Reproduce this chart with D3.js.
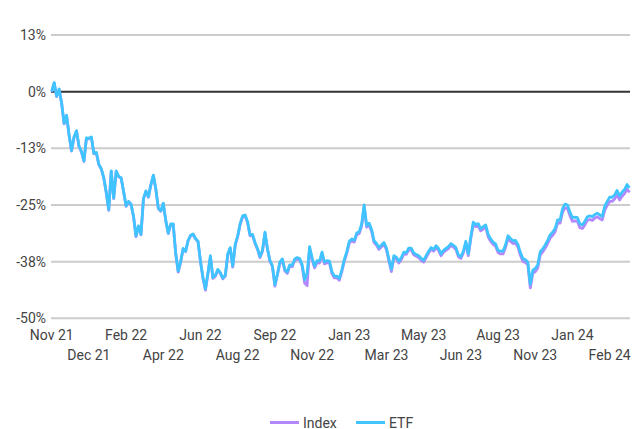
<!DOCTYPE html>
<html>
<head>
<meta charset="utf-8">
<script src="https://cdn.jsdelivr.net/npm/d3@7"></script>
<style>
  body { margin: 0; background: #fff; }
  text { font-family: Roboto, "Noto Sans", sans-serif; }
</style>
</head>
<body>
<div id="chart"></div>
<script>
// percentage change since Nov 21, one value per point
const etfValues = [
  0, 2.0, -1.0, 0.6, -2.5, -7.0, -5.2, -9.5, -13.0, -10.0,
  -8.6, -12.0, -13.2, -15.3, -10.2, -10.3, -10.0, -13.6, -13.4, -16.0,
  -17.0, -19.0, -22.2, -26.0, -17.5, -23.5, -17.5, -18.7, -19.0, -22.0,
  -25.2, -24.2, -24.8, -27.5, -31.8, -29.6, -31.5, -23.6, -21.9, -23.2,
  -20.5, -18.4, -21.5, -25.7, -26.3, -24.6, -28.4, -31.2, -29.2, -29.2,
  -35.6, -39.6, -37.5, -34.6, -35.2, -32.8, -31.7, -31.4, -32.4, -33.0,
  -37.4, -41.0, -43.5, -40.0, -36.2, -41.0, -40.5, -39.2, -39.9, -41.1,
  -40.5, -35.8, -34.4, -38.5, -33.7, -31.8, -29.1, -27.4, -27.2, -28.7,
  -31.6, -31.5, -33.3, -34.6, -36.4, -35.0, -31.0, -34.6, -37.2, -38.4,
  -42.6, -40.3, -37.6, -36.9, -39.2, -39.8, -38.2, -38.3, -36.9, -36.6,
  -36.8, -38.2, -41.5, -40.0, -34.2, -36.6, -38.5, -37.3, -37.4, -35.4,
  -37.6, -37.3, -37.4, -39.7, -40.7, -40.7, -41.2, -39.3, -37.0, -35.3,
  -33.0, -32.5, -32.8, -31.2, -30.9, -29.2, -25.0, -29.5, -29.0, -30.4,
  -32.9, -33.5, -34.4, -33.8, -33.3, -34.5, -37.0, -39.2, -36.2, -36.5,
  -37.4, -36.6, -35.4, -35.5, -34.5, -34.5, -35.6, -35.9, -36.2, -36.8,
  -37.2, -36.2, -35.2, -34.4, -34.8, -34.0, -34.6, -35.8, -35.0, -34.6,
  -34.2, -33.5, -33.9, -34.4, -36.0, -36.4, -35.2, -33.0, -35.8, -32.0,
  -28.8, -29.3, -29.1, -30.2, -29.8, -29.4, -31.5, -32.5, -33.2, -33.6,
  -35.0, -35.2, -35.2, -33.8, -31.8, -32.4, -32.9, -32.8, -33.7, -35.5,
  -36.8, -37.1, -37.6, -42.5, -39.4, -39.0, -38.2, -35.3, -34.7, -33.8,
  -32.8, -31.6, -31.0, -30.2, -28.3, -28.3, -25.8, -24.8, -25.0, -26.6,
  -27.8, -27.7, -27.8, -29.2, -29.4, -28.6, -27.6, -27.4, -27.6, -27.1,
  -26.8, -27.2, -27.5, -25.3, -24.2, -23.3, -23.3, -22.8, -21.8, -23.0,
  -22.2, -21.6, -20.5, -21.2
];

const indexValues = [
  0, 1.9, -1.1, 0.5, -2.6, -7.1, -5.3, -9.6, -13.1, -10.1,
  -8.7, -12.1, -13.3, -15.4, -10.3, -10.4, -10.1, -13.7, -13.5, -16.1,
  -17.1, -19.1, -22.3, -26.2, -17.6, -23.6, -17.6, -18.8, -19.1, -22.1,
  -25.3, -24.3, -24.9, -27.6, -32.0, -29.7, -31.6, -23.7, -22.0, -23.3,
  -20.6, -18.5, -21.6, -25.8, -26.4, -24.7, -28.5, -31.3, -29.3, -29.3,
  -35.7, -39.8, -37.6, -34.7, -35.3, -32.9, -31.8, -31.5, -32.5, -33.1,
  -37.5, -41.2, -43.8, -40.2, -36.4, -41.2, -40.7, -39.4, -40.1, -41.3,
  -40.7, -36.0, -34.6, -38.7, -33.9, -32.0, -29.3, -27.6, -27.4, -28.9,
  -31.8, -31.7, -33.5, -34.8, -36.6, -35.2, -31.2, -34.8, -37.4, -38.6,
  -42.9, -40.5, -37.9, -37.2, -39.5, -40.1, -38.5, -38.6, -37.2, -36.9,
  -37.1, -38.5, -42.2, -42.8, -34.6, -37.0, -38.9, -37.7, -37.8, -35.8,
  -38.0, -37.7, -37.8, -40.1, -41.1, -41.1, -41.6, -39.7, -37.4, -35.7,
  -33.4, -32.9, -33.2, -31.6, -31.3, -29.6, -25.4, -29.9, -29.4, -30.8,
  -33.3, -33.9, -34.8, -34.2, -33.7, -34.9, -37.4, -39.7, -36.6, -36.9,
  -37.8, -37.0, -35.8, -35.9, -34.9, -34.9, -36.0, -36.3, -36.6, -37.2,
  -37.6, -36.6, -35.6, -34.8, -35.2, -34.4, -35.0, -36.2, -35.4, -35.0,
  -34.6, -33.9, -34.3, -34.8, -36.4, -36.8, -35.6, -33.4, -36.2, -32.4,
  -29.3, -29.8, -29.6, -30.7, -30.3, -29.9, -32.0, -33.0, -33.7, -34.1,
  -35.5, -35.8, -35.8, -34.4, -32.4, -33.0, -33.5, -33.4, -34.3, -36.1,
  -37.4, -37.7, -38.2, -43.3, -40.1, -39.7, -38.9, -36.0, -35.4, -34.5,
  -33.5, -32.3, -31.7, -30.9, -29.0, -29.0, -26.6, -25.6, -25.8, -27.4,
  -28.6, -28.5, -28.6, -30.0, -30.2, -29.4, -28.4, -28.2, -28.4, -27.9,
  -27.6, -28.0, -28.3, -26.2, -25.1, -24.2, -24.2, -23.7, -22.7, -23.9,
  -23.1, -22.5, -21.5, -22.2
];

const xLabels = ["Nov 21", "Dec 21", "Feb 22", "Apr 22", "Jun 22", "Aug 22", "Sep 22", "Nov 22",
                 "Jan 23", "Mar 23", "May 23", "Jun 23", "Aug 23", "Nov 23", "Jan 24", "Feb 24"];
const labelStep = 15;
const yTicks = [12.5, 0, -12.5, -25, -37.5, -50];
const yTickLabels = ["13%", "0%", "-13%", "-25%", "-38%", "-50%"];
const seriesNames = ["Index", "ETF"];
const seriesColors = ["#b388ff", "#40c4ff"];

const width = 635, height = 429;
const svg = d3.select("#chart").append("svg").attr("width", width).attr("height", height);

const x = d3.scaleLinear().domain([0, etfValues.length - 1]).range([51.7, 629.5]);
const y = d3.scaleLinear().domain([-50, 12.5]).range([318.3, 35]);

// grid
svg.append("g").selectAll("line").data(yTicks).enter().append("line")
  .attr("x1", 51).attr("x2", 630)
  .attr("y1", d => y(d)).attr("y2", d => y(d))
  .attr("stroke", d => d === 0 ? "#333" : "#ccc")
  .attr("stroke-width", 2);

svg.append("g").selectAll("text").data(yTicks).enter().append("text")
  .attr("x", 46).attr("y", d => y(d) + 5)
  .attr("text-anchor", "end")
  .attr("font-size", "14px").attr("fill", "#444")
  .text((d, i) => yTickLabels[i]);

svg.append("g").selectAll("text").data(xLabels).enter().append("text")
  .attr("x", (d, i) => x(i * labelStep))
  .attr("y", (d, i) => i % 2 === 0 ? 339.5 : 359.5)
  .attr("text-anchor", "middle")
  .attr("font-size", "14px").attr("fill", "#444")
  .text(d => d);

const line = d3.line().x((d, i) => x(i)).y(d => y(d));

[indexValues, etfValues].forEach((vals, k) => {
  svg.append("path").datum(vals)
    .attr("fill", "none")
    .attr("stroke", seriesColors[k])
    .attr("stroke-width", 2.8)
    .attr("stroke-linejoin", "round")
    .attr("d", line);
});

// legend
const legendX = [270, 356];
const leg = svg.append("g").selectAll("g").data(seriesNames).enter().append("g")
  .attr("transform", (d, i) => `translate(${legendX[i]},422.5)`);
leg.append("line").attr("x1", 0).attr("x2", 29)
  .attr("stroke", (d, i) => seriesColors[i]).attr("stroke-width", 3);
leg.append("text").attr("x", 33).attr("y", 5)
  .attr("font-size", "14px").attr("fill", "#444")
  .text(d => d);
</script>
</body>
</html>
